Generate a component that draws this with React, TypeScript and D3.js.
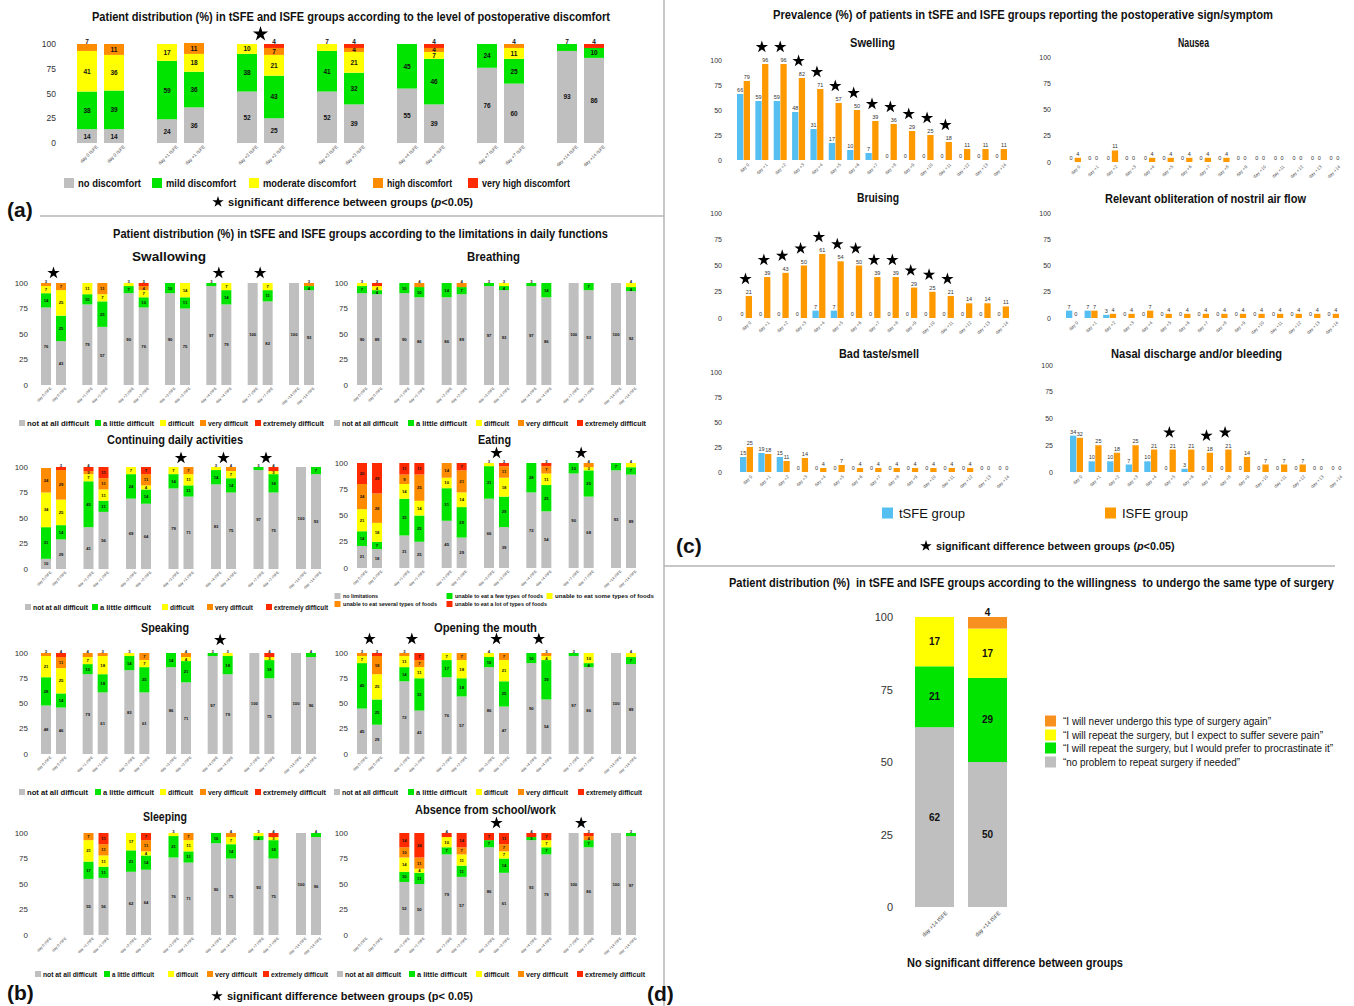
import React from 'react';
import * as d3 from 'd3';

const FONT = "'Liberation Sans Narrow', 'Liberation Sans', Arial, sans-serif";
const GROUPS = ['tSFE', 'ISFE'];
const TICKS = [0, 25, 50, 75, 100];
const DAYS7 = ['day 0', 'day +1', 'day +2', 'day +3', 'day +4', 'day +7', 'day +14'];
const DAYS15 = ['day 0', 'day +1', 'day +2', 'day +3', 'day +4', 'day +5', 'day +6', 'day +7',
  'day +8', 'day +9', 'day +10', 'day +11', 'day +12', 'day +13', 'day +14'];

const LEVEL_COLORS = ['#bfbfbf', '#00e400', '#ffff00', '#ff8c00', '#ff2a00'];
const GROUP_COLORS = ['#56bff2', '#ff9900'];

// (a) discomfort
const DISCOMFORT = ['no discomfort', 'mild discomfort', 'moderate discomfort', 'high discomfort', 'very high discomfort'];
const DISCOMFORT_TSFE = [[14, 38, 41, 7, 0], [24, 59, 17, 0, 0], [52, 38, 10, 0, 0], [52, 41, 7, 0, 0], [55, 45, 0, 0, 0], [76, 24, 0, 0, 0], [93, 7, 0, 0, 0]];
const DISCOMFORT_ISFE = [[14, 39, 36, 11, 0], [36, 36, 18, 11, 0], [25, 43, 21, 7, 4], [39, 32, 21, 4, 4], [39, 46, 7, 4, 4], [60, 25, 11, 4, 0], [86, 10, 0, 0, 4]];
const DISCOMFORT_STARS = ['day +2'];

// (b) daily functions
const DIFFICULTY = ['not at all difficult', 'a little difficult', 'difficult', 'very difficult', 'extremely difficult'];
const EATING = ['no limitations', 'unable to eat a few types of foods', 'unable to eat some types of foods', 'unable to eat several types of foods', 'unable to eat a lot of types of foods'];

const SWALLOW_TSFE = [[76, 14, 7, 3, 0], [79, 10, 11, 0, 0], [90, 7, 3, 0, 0], [90, 10, 0, 0, 0], [97, 3, 0, 0, 0], [100, 0, 0, 0, 0], [100, 0, 0, 0, 0]];
const SWALLOW_ISFE = [[43, 25, 25, 7, 0], [57, 25, 7, 11, 0], [76, 10, 7, 4, 3], [75, 11, 14, 0, 0], [79, 14, 7, 0, 0], [82, 11, 7, 0, 0], [93, 4, 0, 3, 0]];
const SWALLOW_STARS = ['day 0', 'day +4', 'day +7'];

const BREATH_TSFE = [[90, 7, 3, 0, 0], [90, 10, 0, 0, 0], [86, 14, 0, 0, 0], [97, 3, 0, 0, 0], [97, 3, 0, 0, 0], [100, 0, 0, 0, 0], [100, 0, 0, 0, 0]];
const BREATH_ISFE = [[89, 4, 4, 0, 3], [86, 10, 0, 4, 0], [89, 7, 0, 4, 0], [93, 4, 3, 0, 0], [86, 14, 0, 0, 0], [93, 7, 0, 0, 0], [92, 4, 4, 0, 0]];
const BREATH_STARS: string[] = [];

const DAILY_TSFE = [[10, 31, 34, 24, 0], [41, 45, 7, 3, 4], [69, 24, 7, 0, 0], [79, 14, 7, 0, 0], [83, 14, 3, 0, 0], [97, 3, 0, 0, 0], [100, 0, 0, 0, 0]];
const DAILY_ISFE = [[29, 14, 25, 29, 3], [56, 11, 11, 11, 11], [64, 14, 4, 11, 7], [71, 11, 11, 7, 0], [75, 14, 7, 4, 0], [75, 18, 3, 0, 4], [93, 7, 0, 0, 0]];
const DAILY_STARS = ['day +3', 'day +4', 'day +7'];

const EAT_TSFE = [[21, 14, 21, 24, 20], [31, 35, 14, 9, 11], [45, 31, 10, 14, 0], [66, 31, 3, 0, 0], [72, 28, 0, 0, 0], [90, 10, 0, 0, 0], [93, 7, 0, 0, 0]];
const EAT_ISFE = [[18, 7, 18, 28, 29], [25, 25, 14, 25, 11], [29, 29, 14, 21, 7], [39, 29, 18, 11, 3], [54, 25, 11, 7, 3], [68, 25, 3, 4, 0], [89, 7, 4, 0, 0]];
const EAT_STARS = ['day +3', 'day +7'];

const SPEAK_TSFE = [[48, 28, 21, 3, 0], [79, 10, 7, 4, 0], [83, 14, 3, 0, 0], [86, 14, 0, 0, 0], [97, 3, 0, 0, 0], [100, 0, 0, 0, 0], [100, 0, 0, 0, 0]];
const SPEAK_ISFE = [[46, 14, 25, 11, 4], [61, 18, 18, 3, 0], [61, 25, 7, 7, 0], [71, 21, 4, 4, 0], [79, 18, 3, 0, 0], [75, 18, 3, 0, 4], [96, 4, 0, 0, 0]];
const SPEAK_STARS = ['day +4'];

const OPEN_TSFE = [[45, 45, 7, 3, 0], [72, 14, 11, 3, 0], [76, 17, 7, 0, 0], [86, 10, 4, 0, 0], [90, 10, 0, 0, 0], [97, 3, 0, 0, 0], [100, 0, 0, 0, 0]];
const OPEN_ISFE = [[29, 25, 25, 18, 3], [43, 32, 11, 7, 7], [57, 18, 18, 7, 0], [47, 25, 21, 7, 0], [54, 39, 4, 3, 0], [86, 4, 10, 0, 0], [89, 7, 4, 0, 0]];
const OPEN_STARS = ['day 0', 'day +1', 'day +3', 'day +4'];

const SLEEP_TSFE = [[0, 0, 0, 0, 0], [55, 17, 21, 7, 0], [62, 21, 17, 0, 0], [76, 21, 3, 0, 0], [90, 10, 0, 0, 0], [93, 4, 3, 0, 0], [100, 0, 0, 0, 0]];
const SLEEP_ISFE = [[0, 0, 0, 0, 0], [56, 11, 11, 11, 11], [64, 14, 4, 11, 7], [71, 11, 11, 7, 0], [75, 14, 7, 4, 0], [75, 18, 3, 0, 4], [96, 4, 0, 0, 0]];
const SLEEP_STARS: string[] = [];

const ABSENT_TSFE = [[0, 0, 0, 0, 0], [52, 10, 14, 10, 14], [79, 7, 10, 0, 4], [86, 7, 0, 0, 7], [93, 3, 0, 0, 4], [100, 0, 0, 0, 0], [100, 0, 0, 0, 0]];
const ABSENT_ISFE = [[0, 0, 0, 0, 0], [50, 11, 4, 11, 24], [57, 11, 11, 7, 14], [61, 14, 7, 7, 11], [79, 7, 7, 0, 7], [86, 7, 0, 4, 3], [97, 3, 0, 0, 0]];
const ABSENT_STARS = ['day +3', 'day +7'];

// (c) prevalence of signs/symptoms
const SWELL_TSFE = [66, 59, 59, 48, 31, 17, 10, 7, 0, 0, 0, 0, 0, 0, 0];
const SWELL_ISFE = [79, 96, 96, 82, 71, 57, 50, 39, 36, 29, 25, 18, 11, 11, 11];
const SWELL_STARS = ['day +1', 'day +2', 'day +3', 'day +4', 'day +5', 'day +6', 'day +7', 'day +8', 'day +9', 'day +10', 'day +11'];
const NAUSEA_TSFE = [0, 0, 0, 0, 0, 0, 0, 0, 0, 0, 0, 0, 0, 0, 0];
const NAUSEA_ISFE = [4, 0, 11, 0, 4, 4, 4, 4, 4, 0, 0, 0, 0, 0, 0];
const BRUISE_TSFE = [0, 0, 0, 0, 7, 7, 0, 0, 0, 0, 0, 0, 0, 0, 0];
const BRUISE_ISFE = [21, 39, 43, 50, 61, 54, 50, 39, 39, 29, 25, 21, 14, 14, 11];
const BRUISE_STARS = ['day 0', 'day +1', 'day +2', 'day +3', 'day +4', 'day +5', 'day +6', 'day +7', 'day +8', 'day +9', 'day +10', 'day +11'];
const NOSTRIL_TSFE = [7, 7, 3, 0, 0, 0, 0, 0, 0, 0, 0, 0, 0, 0, 0];
const NOSTRIL_ISFE = [0, 7, 4, 4, 7, 4, 4, 4, 4, 4, 4, 4, 4, 4, 4];
const TASTE_TSFE = [15, 19, 15, 0, 0, 0, 0, 0, 0, 0, 0, 0, 0, 0, 0];
const TASTE_ISFE = [25, 18, 11, 14, 4, 7, 4, 4, 4, 4, 4, 4, 4, 0, 0];
const NASAL_TSFE = [34, 10, 10, 7, 10, 0, 3, 0, 0, 0, 0, 0, 0, 0, 0];
const NASAL_ISFE = [32, 25, 18, 25, 21, 21, 21, 18, 21, 14, 7, 7, 7, 0, 0];
const NASAL_STARS = ['day +5', 'day +7', 'day +8'];

// (d) willingness to undergo the same surgery (bottom to top)
const WILLING = [
  '\u201Cno problem to repeat surgery if needed\u201D',
  '\u201CI will repeat the surgery, but I would prefer to procrastinate it\u201D',
  '\u201CI will repeat the surgery, but I expect to suffer severe pain\u201D',
  '\u201CI will never undergo this type of surgery again\u201D',
];
const WILLING_DAYS = ['day +14'];
const WILLING_TSFE = [[62, 21, 17, 0]];
const WILLING_ISFE = [[50, 29, 17, 4]];
const WILLING_COLORS = ['#bfbfbf', '#00e400', '#ffff00', '#f7901e'];

const starPath = (r: number) => d3.symbol(d3.symbolStar, (r * r) / 0.8908130915)() as string;

type TxtProps = {
  x: number; y: number; size: number; w?: number; bold?: boolean; italic?: boolean; anchor?: string;
  fill?: string; family?: string; children: React.ReactNode; transform?: string;
};
function Txt({ x, y, size, w, bold, italic, anchor = 'start', fill = '#111', family = FONT, children, transform }: TxtProps) {
  return (
    <text x={x} y={y} fontSize={size} fontWeight={bold ? 700 : 400} fontStyle={italic ? 'italic' : undefined}
      textAnchor={anchor} dominantBaseline="central" fill={fill} fontFamily={family} transform={transform}
      textLength={w} lengthAdjust={w ? 'spacingAndGlyphs' : undefined} style={{ whiteSpace: 'pre' }}>
      {children}
    </text>
  );
}

type StackProps = {
  days: string[]; tsfe: number[][]; isfe: number[][]; stars: string[]; colors: string[];
  x0: number; x1: number; groupW: number; barW: number; yTop: number; yBot: number;
  tickX: number; tickSize: number; valueSize: number; valueBold?: boolean;
  xLabelSize: number; xLabelDx: number; xLabelDy: number; starY?: number; starR?: number;
};

function StackedChart(p: StackProps) {
  const n = p.days.length;
  const step = n > 1 ? (p.x1 - p.x0 - p.groupW) / (n - 1) : p.groupW;
  const x = d3.scaleBand<string>().domain(p.days).range([p.x0, p.x1])
    .paddingInner(n > 1 ? 1 - p.groupW / step : 0).paddingOuter(0);
  const xi = d3.scaleBand<string>().domain(GROUPS).range([0, p.groupW])
    .paddingInner((p.groupW - 2 * p.barW) / (p.groupW - p.barW));
  const y = d3.scaleLinear().domain([0, 100]).range([p.yBot, p.yTop]);
  const levels = d3.range(p.tsfe[0].length);
  const stack = d3.stack<number[], number>().keys(levels).value((d, k) => d[k]);
  const star = starPath(p.starR || 6);

  return (
    <g>
      {TICKS.map(t => (
        <Txt key={t} x={p.tickX} y={y(t)} size={p.tickSize} anchor="end" fill="#333">{t}</Txt>
      ))}
      {GROUPS.map((g, gi) => {
        const rows = gi === 0 ? p.tsfe : p.isfe;
        return stack(rows).map((s, li) => s.map((seg, di) => {
          const v = rows[di][li];
          if (!v) return null;
          const bx = x(p.days[di])! + xi(g)!;
          const bw = xi.bandwidth();
          const h = y(seg[0]) - y(seg[1]);
          const isTop = rows[di].slice(li + 1).every(u => !u);
          // a thin top segment carries its label just above the bar
          const ly = isTop && h < p.valueSize * 1.2 ? y(seg[1]) - p.valueSize * 0.45 : (y(seg[0]) + y(seg[1])) / 2;
          return (
            <g key={`${g}-${li}-${di}`}>
              <rect x={bx} y={y(seg[1])} width={bw} height={h} fill={p.colors[li]} />
              <Txt x={bx + bw / 2} y={ly} size={p.valueSize}
                bold={p.valueBold} anchor="middle" fill="#111" family="'Liberation Sans', Arial, sans-serif">{v}</Txt>
            </g>
          );
        }));
      })}
      {p.days.map(d => GROUPS.map(g => {
        const cx = x(d)! + xi(g)! + xi.bandwidth() / 2 + p.xLabelDx;
        const cy = p.yBot + p.xLabelDy;
        return (
          <Txt key={`${d}-${g}`} x={0} y={0} size={p.xLabelSize} anchor="end" fill="#444"
            family="'Liberation Sans', Arial, sans-serif"
            transform={`translate(${cx},${cy}) rotate(-45)`}>{`${d} ${g}`}</Txt>
        );
      }))}
      {p.stars.map(d => (
        <path key={d} d={star} fill="#000"
          transform={`translate(${x(d)! + p.groupW / 2},${p.starY})`} />
      ))}
    </g>
  );
}

type GroupedProps = {
  days: string[]; tsfe: number[]; isfe: number[]; stars: string[];
  x0: number; x1: number; groupW: number; yTop: number; yBot: number; tickX: number;
};

function GroupedChart(p: GroupedProps) {
  const n = p.days.length;
  const step = (p.x1 - p.x0 - p.groupW) / (n - 1);
  const x = d3.scaleBand<string>().domain(p.days).range([p.x0, p.x1])
    .paddingInner(1 - p.groupW / step).paddingOuter(0);
  const xi = d3.scaleBand<string>().domain(GROUPS).range([0, p.groupW]).paddingInner(0.06);
  const y = d3.scaleLinear().domain([0, 100]).range([p.yBot, p.yTop]);
  const star = starPath(6.5);
  return (
    <g>
      {TICKS.map(t => (
        <Txt key={t} x={p.tickX} y={y(t)} size={7} anchor="end" fill="#333">{t}</Txt>
      ))}
      {GROUPS.map((g, gi) => (gi === 0 ? p.tsfe : p.isfe).map((v, di) => {
        const bx = x(p.days[di])! + xi(g)!;
        const bw = xi.bandwidth();
        return (
          <g key={`${g}-${di}`}>
            {v > 0 && <rect x={bx} y={y(v)} width={bw} height={p.yBot - y(v)} fill={GROUP_COLORS[gi]} />}
            <Txt x={bx + bw / 2} y={y(v) - 4} size={5.5} anchor="middle" fill="#333"
              family="'Liberation Sans', Arial, sans-serif">{v}</Txt>
          </g>
        );
      }))}
      {p.days.map(d => (
        <Txt key={d} x={0} y={0} size={4.5} anchor="end" fill="#555"
          family="'Liberation Sans', Arial, sans-serif"
          transform={`translate(${x(d)! + p.groupW / 2 + 5},${p.yBot + 4}) rotate(-45)`}>{d}</Txt>
      ))}
      {p.stars.map(d => {
        const i = p.days.indexOf(d);
        const top = y(Math.max(p.tsfe[i], p.isfe[i]));
        return <path key={d} d={star} fill="#000" transform={`translate(${x(d)! + p.groupW / 2},${top - 17})`} />;
      })}
    </g>
  );
}

type LegendProps = {
  labels: string[]; colors: string[]; xs: number[]; ys: number[]; ws: number[];
  size: number; sq: number; gap: number; bold?: boolean;
};
function Legend(p: LegendProps) {
  return (
    <g>
      {p.labels.map((l, i) => (
        <g key={l}>
          <rect x={p.xs[i] - p.gap - p.sq} y={p.ys[i] - p.sq / 2} width={p.sq} height={p.sq} fill={p.colors[i]} />
          <Txt x={p.xs[i]} y={p.ys[i]} size={p.size} w={p.ws[i]} bold={p.bold}>{l}</Txt>
        </g>
      ))}
    </g>
  );
}

// star + "significant difference between groups (p<0.05)", one text at its natural width
function StarNote({ sx, tx, y, size, italic }: { sx: number; tx: number; y: number; size: number; italic: boolean }) {
  return (
    <g>
      <path d={starPath(6)} fill="#000" transform={`translate(${sx},${y})`} />
      <text x={tx} y={y} fontSize={size} fontWeight={700} fontFamily="'Liberation Sans', Arial, sans-serif"
        dominantBaseline="central" fill="#111">
        {italic ? <>significant difference between groups (<tspan fontStyle="italic">p</tspan>{'<0.05)'}</> :
          'significant difference between groups (p< 0.05)'}
      </text>
    </g>
  );
}

const same = (v: number) => [v, v, v, v, v];

export default function App() {
  const left = { x0: 41, groupW: 25, barW: 10, tickX: 28, tickSize: 8, valueSize: 4.2, valueBold: true, xLabelSize: 3.8, xLabelDx: 5, xLabelDy: 3, starR: 6.5 };
  const right = { ...left, x0: 357, x1: 636, tickX: 348 };
  const PANEL = "'Liberation Sans', Arial, sans-serif";
  return (
    <svg width={1354} height={1006} style={{ position: 'absolute', left: 0, top: 0, background: '#fff' }}>
      <rect width={1354} height={1006} fill="#fff" />
      {/* separators */}
      <line x1={40} x2={664} y1={216} y2={216} stroke="#b5b5b5" strokeWidth={1.5} />
      <line x1={664} x2={664} y1={0} y2={1006} stroke="#b5b5b5" strokeWidth={1.5} />
      <line x1={664} x2={1335} y1={566} y2={566} stroke="#b5b5b5" strokeWidth={1.5} />

      {/* (a) */}
      <Txt x={351} y={17} size={12.5} w={518} bold anchor="middle">Patient distribution (%) in tSFE and ISFE groups according to the level of postoperative discomfort</Txt>
      <StackedChart days={DAYS7} tsfe={DISCOMFORT_TSFE} isfe={DISCOMFORT_ISFE} stars={DISCOMFORT_STARS}
        colors={LEVEL_COLORS} x0={77} x1={604} groupW={47} barW={20} yTop={44} yBot={143}
        tickX={56} tickSize={8.5} valueSize={6.5} valueBold xLabelSize={4.6} xLabelDx={10} xLabelDy={3}
        starY={34} starR={8} />
      <Legend labels={DISCOMFORT} colors={LEVEL_COLORS} xs={[78, 166, 263, 387, 482]} ys={same(183)}
        ws={[63, 70, 93, 65, 88]} size={11.5} sq={10} gap={4} bold />
      <StarNote sx={218} tx={228} y={202} size={11.1} italic />
      <Txt x={7} y={209} size={21} bold family={PANEL}>(a)</Txt>

      {/* (b) */}
      <Txt x={360.5} y={234} size={12.5} w={495} bold anchor="middle">Patient distribution (%) in tSFE and ISFE groups according to the limitations in daily functions</Txt>

      <Txt x={169} y={257} size={12} w={74} bold anchor="middle">Swallowing</Txt>
      <StackedChart {...left} x1={314} days={DAYS7} tsfe={SWALLOW_TSFE} isfe={SWALLOW_ISFE} stars={SWALLOW_STARS}
        colors={LEVEL_COLORS} yTop={283} yBot={385} starY={273} />
      <Legend labels={DIFFICULTY} colors={LEVEL_COLORS} xs={[27, 103, 168, 208, 263]} ys={same(423)}
        ws={[62, 51, 26, 40, 61]} size={7.5} sq={6} gap={2} bold />
      <Txt x={493.5} y={257} size={12} w={53} bold anchor="middle">Breathing</Txt>
      <StackedChart {...right} days={DAYS7} tsfe={BREATH_TSFE} isfe={BREATH_ISFE} stars={BREATH_STARS}
        colors={LEVEL_COLORS} yTop={283} yBot={385} starY={273} />
      <Legend labels={DIFFICULTY} colors={LEVEL_COLORS} xs={[342, 416, 484, 526, 585]} ys={same(423)}
        ws={[56, 51, 25, 42, 61]} size={7.5} sq={6} gap={2} bold />

      <Txt x={175} y={440} size={12} w={136} bold anchor="middle">Continuing daily activities</Txt>
      <StackedChart {...left} x1={321} days={DAYS7} tsfe={DAILY_TSFE} isfe={DAILY_ISFE} stars={DAILY_STARS}
        colors={LEVEL_COLORS} yTop={467} yBot={569} starY={458} />
      <Legend labels={DIFFICULTY} colors={LEVEL_COLORS} xs={[33, 100, 170, 215, 274]} ys={same(607)}
        ws={[55, 51, 24, 38, 54]} size={7.5} sq={6} gap={2} bold />
      <Txt x={494.5} y={440} size={12} w={33} bold anchor="middle">Eating</Txt>
      <StackedChart {...right} days={DAYS7} tsfe={EAT_TSFE} isfe={EAT_ISFE} stars={EAT_STARS}
        colors={LEVEL_COLORS} yTop={463} yBot={568} starY={453} />
      <Legend labels={EATING} colors={LEVEL_COLORS} xs={[343, 455, 555, 343, 455]} ys={[596, 596, 596, 604, 604]}
        ws={[35, 88, 99, 94, 92]} size={5.5} sq={6} gap={2.5} bold />

      <Txt x={165} y={628} size={12} w={48} bold anchor="middle">Speaking</Txt>
      <StackedChart {...left} x1={316} days={DAYS7} tsfe={SPEAK_TSFE} isfe={SPEAK_ISFE} stars={SPEAK_STARS}
        colors={LEVEL_COLORS} yTop={653} yBot={754} starY={640} />
      <Legend labels={DIFFICULTY} colors={LEVEL_COLORS} xs={[27, 103, 168, 208, 263]} ys={same(792)}
        ws={[61, 51, 25, 40, 63]} size={7.5} sq={6} gap={2} bold />
      <Txt x={485.5} y={628} size={12} w={103} bold anchor="middle">Opening the mouth</Txt>
      <StackedChart {...right} days={DAYS7} tsfe={OPEN_TSFE} isfe={OPEN_ISFE} stars={OPEN_STARS}
        colors={LEVEL_COLORS} yTop={653} yBot={754} starY={639} />
      <Legend labels={DIFFICULTY} colors={LEVEL_COLORS} xs={[342, 416, 484, 526, 586]} ys={same(792)}
        ws={[56, 51, 24, 42, 56]} size={7.5} sq={6} gap={2} bold />

      <Txt x={165} y={817} size={12} w={44} bold anchor="middle">Sleeping</Txt>
      <StackedChart {...left} x1={321} days={DAYS7} tsfe={SLEEP_TSFE} isfe={SLEEP_ISFE} stars={SLEEP_STARS}
        colors={LEVEL_COLORS} yTop={833} yBot={935} starY={823} />
      <Legend labels={DIFFICULTY} colors={LEVEL_COLORS} xs={[43, 112, 176, 215, 271]} ys={same(974)}
        ws={[54, 42, 22, 42, 57]} size={7.5} sq={6} gap={2} bold />
      <Txt x={485.5} y={810} size={12} w={141} bold anchor="middle">Absence from school/work</Txt>
      <StackedChart {...right} days={DAYS7} tsfe={ABSENT_TSFE} isfe={ABSENT_ISFE} stars={ABSENT_STARS}
        colors={LEVEL_COLORS} yTop={833} yBot={935} starY={823} />
      <Legend labels={DIFFICULTY} colors={LEVEL_COLORS} xs={[345, 417, 484, 526, 585]} ys={same(974)}
        ws={[56, 50, 25, 42, 60]} size={7.5} sq={6} gap={2} bold />

      <StarNote sx={217} tx={227} y={996} size={11} italic={false} />
      <Txt x={7} y={992} size={21} bold family={PANEL}>(b)</Txt>

      {/* (c) */}
      <Txt x={1023} y={15} size={12} w={500} bold anchor="middle">Prevalence (%) of patients in tSFE and ISFE groups reporting the postoperative sign/symptom</Txt>
      <Txt x={872.5} y={43} size={12} w={45} bold anchor="middle">Swelling</Txt>
      <GroupedChart days={DAYS15} tsfe={SWELL_TSFE} isfe={SWELL_ISFE} stars={SWELL_STARS}
        x0={737} x1={1007} groupW={13} yTop={60} yBot={160} tickX={722} />
      <Txt x={1193.5} y={43} size={12} w={31} bold anchor="middle">Nausea</Txt>
      <GroupedChart days={DAYS15} tsfe={NAUSEA_TSFE} isfe={NAUSEA_ISFE} stars={[]}
        x0={1068} x1={1341} groupW={13} yTop={57} yBot={162} tickX={1051} />
      <Txt x={878} y={198} size={12} w={42} bold anchor="middle">Bruising</Txt>
      <GroupedChart days={DAYS15} tsfe={BRUISE_TSFE} isfe={BRUISE_ISFE} stars={BRUISE_STARS}
        x0={739} x1={1009} groupW={13} yTop={213} yBot={318} tickX={722} />
      <Txt x={1205.5} y={199} size={12} w={201} bold anchor="middle">Relevant obliteration of nostril air flow</Txt>
      <GroupedChart days={DAYS15} tsfe={NOSTRIL_TSFE} isfe={NOSTRIL_ISFE} stars={[]}
        x0={1066} x1={1339} groupW={13} yTop={213} yBot={318} tickX={1051} />
      <Txt x={879} y={354} size={12} w={80} bold anchor="middle">Bad taste/smell</Txt>
      <GroupedChart days={DAYS15} tsfe={TASTE_TSFE} isfe={TASTE_ISFE} stars={[]}
        x0={740} x1={1010} groupW={13} yTop={372} yBot={472} tickX={722} />
      <Txt x={1196.5} y={354} size={12} w={171} bold anchor="middle">Nasal discharge and/or bleeding</Txt>
      <GroupedChart days={DAYS15} tsfe={NASAL_TSFE} isfe={NASAL_ISFE} stars={NASAL_STARS}
        x0={1070} x1={1343} groupW={13} yTop={365} yBot={472} tickX={1053} />
      <Legend labels={GROUPS.map(g => `${g} group`)} colors={GROUP_COLORS} xs={[899, 1122]} ys={[513, 513]}
        ws={[66, 66]} size={13.5} sq={11} gap={6} />
      <StarNote sx={926} tx={936} y={546} size={10.8} italic />
      <Txt x={676} y={545} size={21} bold family={PANEL}>(c)</Txt>

      {/* (d) */}
      <Txt x={1031.5} y={583} size={12} w={605} bold anchor="middle">Patient distribution (%)  in tSFE and ISFE groups according to the willingness  to undergo the same type of surgery</Txt>
      <StackedChart days={WILLING_DAYS} tsfe={WILLING_TSFE} isfe={WILLING_ISFE} stars={[]}
        colors={WILLING_COLORS} x0={915} x1={1007} groupW={92} barW={39} yTop={617} yBot={907}
        tickX={893} tickSize={11} valueSize={10} valueBold xLabelSize={5.5} xLabelDx={12} xLabelDy={5} />
      <Legend labels={WILLING.slice().reverse()} colors={WILLING_COLORS.slice().reverse()}
        xs={[1063, 1063, 1063, 1063]} ys={[721, 735, 748, 762]} ws={[208, 260, 270, 177]}
        size={11} sq={11} gap={7} />
      <Txt x={1015} y={963} size={12.5} w={216} bold anchor="middle">No significant difference between groups</Txt>
      <Txt x={647} y={993} size={21} bold family={PANEL}>(d)</Txt>
    </svg>
  );
}
